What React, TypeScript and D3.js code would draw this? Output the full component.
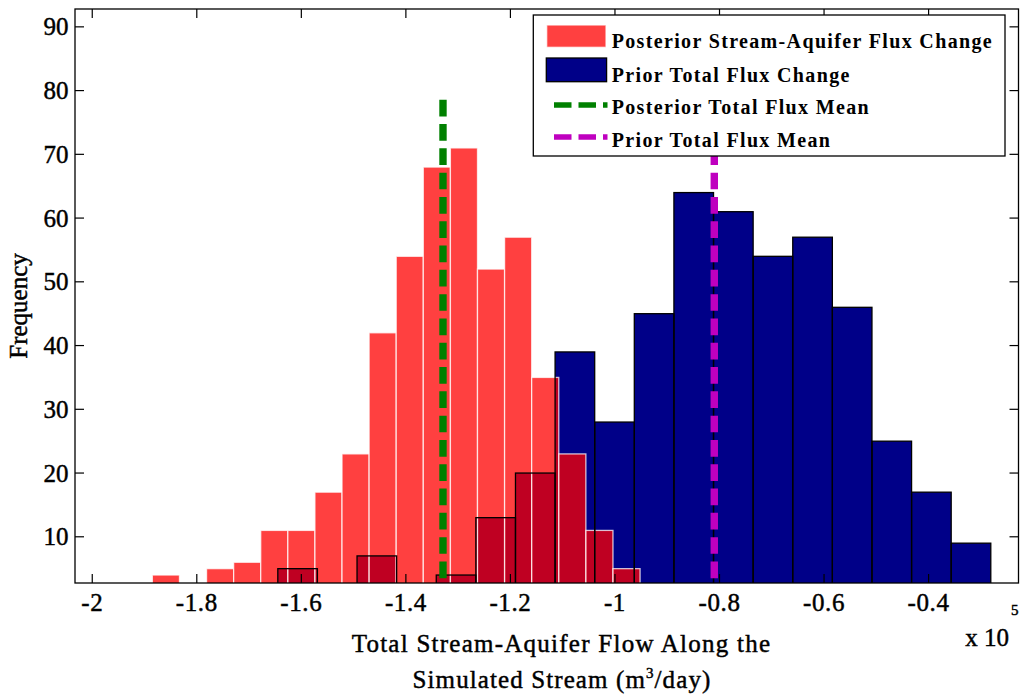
import React from 'react';
import * as d3 from 'd3';

// Histogram counts (18 equal-width bins spanning each range), in units of 10^5 m^3/day
const posteriorCounts = [4, 0, 5, 6, 11, 11, 17, 23, 42, 54, 68, 71, 52, 57, 35, 23, 11, 5];
const posteriorRange: [number, number] = [-1.885, -0.952];
const priorCounts = [5, 0, 7, 0, 4, 13, 20, 39, 28, 45, 64, 61, 54, 57, 46, 25, 17, 9];
const priorRange: [number, number] = [-1.645, -0.281];

const posteriorMean = -1.329;
const priorMean = -0.81;
const meanLineTop = 79;

const xTicks = [-2, -1.8, -1.6, -1.4, -1.2, -1, -0.8, -0.6, -0.4];
const yTicks = [10, 20, 30, 40, 50, 60, 70, 80, 90];

const legendLabels = [
  'Posterior Stream-Aquifer Flux Change',
  'Prior Total Flux Change',
  'Posterior Total Flux Mean',
  'Prior Total Flux Mean',
];

const W = 1021;
const H = 700;
const frame = { left: 75, top: 9, right: 1018.5, bottom: 583 };
const FONT = "'Liberation Serif', 'Times New Roman', serif";

const RED = '#ff0000';
const NAVY = '#000088';
const GREEN = '#008000';
const MAGENTA = '#bf00bf';

// slightly heavier strokes for the regular-weight axis text
const heavy = { stroke: '#000', strokeWidth: 0.45, paintOrder: 'stroke' } as const;

type Bin = { x0: number; x1: number; count: number };

function toBins(counts: number[], range: [number, number]): Bin[] {
  const [lo, hi] = range;
  const w = (hi - lo) / counts.length;
  return counts.map((count, i) => ({ x0: lo + i * w, x1: lo + (i + 1) * w, count }));
}

export default function App() {
  const x = d3.scaleLinear().domain([-2.033, -0.228]).range([frame.left, frame.right]);
  const y = d3.scaleLinear().domain([2.75, 92.8]).range([frame.bottom, frame.top]);

  const post = toBins(posteriorCounts, posteriorRange).filter((b) => b.count > 0);
  const prior = toBins(priorCounts, priorRange).filter((b) => b.count > 0);

  const rect = (b: Bin) => ({
    x: x(b.x0),
    y: y(b.count),
    width: x(b.x1) - x(b.x0),
    height: y(0) - y(b.count),
  });

  const tickLen = 9;
  const pw = frame.right - frame.left;
  const ph = frame.bottom - frame.top;

  const meanLine = (v: number) =>
    d3.line<[number, number]>()([
      [x(v), y(0)],
      [x(v), y(meanLineTop)],
    ]) as string;

  // legend geometry
  const lg = { x: 533.3, y: 15, w: 471.7, h: 141 };
  const rowBase = [48.3, 81.7, 114, 147.3];

  return (
    <div style={{ position: 'absolute', left: 0, top: 0 }}>
      <svg width={W} height={H} style={{ display: 'block', background: '#fff' }} fontFamily={FONT}>
        <defs>
          <clipPath id="plotClip">
            <rect x={frame.left} y={frame.top} width={pw} height={ph} />
          </clipPath>
        </defs>

        <g clipPath="url(#plotClip)">
          {/* prior fill */}
          {prior.map((b, i) => (
            <rect key={'pf' + i} {...rect(b)} fill={NAVY} />
          ))}
          {/* posterior, translucent */}
          {post.map((b, i) => (
            <rect
              key={'po' + i}
              {...rect(b)}
              fill={RED}
              fillOpacity={0.75}
              stroke="#ffffff"
              strokeOpacity={0.75}
              strokeWidth={1.3}
            />
          ))}
          {/* prior outlines */}
          {prior.map((b, i) => (
            <rect key={'pe' + i} {...rect(b)} fill="none" stroke="#000" strokeWidth={1.3} />
          ))}
          {/* mean lines */}
          <path d={meanLine(posteriorMean)} stroke={GREEN} strokeWidth={7.4} strokeDasharray="16.7 7.6" strokeDashoffset={1.9} fill="none" />
          <path d={meanLine(priorMean)} stroke={MAGENTA} strokeWidth={7.4} strokeDasharray="16.7 7.6" strokeDashoffset={1.9} fill="none" />
        </g>

        {/* axes box */}
        <rect x={frame.left} y={frame.top} width={pw} height={ph} fill="none" stroke="#000" strokeWidth={1.3} />

        {/* x ticks */}
        {xTicks.map((t) => (
          <g key={'xt' + t}>
            <line x1={x(t)} x2={x(t)} y1={frame.bottom} y2={frame.bottom - tickLen} stroke="#000" strokeWidth={1.2} />
            <line x1={x(t)} x2={x(t)} y1={frame.top} y2={frame.top + tickLen} stroke="#000" strokeWidth={1.2} />
            <text x={x(t)} y={611} textAnchor="middle" fontSize={25} style={{ letterSpacing: '0.6px' }} {...heavy}>
              {String(t)}
            </text>
          </g>
        ))}

        {/* y ticks */}
        {yTicks.map((t) => (
          <g key={'yt' + t}>
            <line x1={frame.left} x2={frame.left + tickLen} y1={y(t)} y2={y(t)} stroke="#000" strokeWidth={1.2} />
            <line x1={frame.right} x2={frame.right - tickLen} y1={y(t)} y2={y(t)} stroke="#000" strokeWidth={1.2} />
            <text x={68.5} y={y(t) + 8.5} textAnchor="end" fontSize={25} {...heavy}>
              {String(t)}
            </text>
          </g>
        ))}

        {/* axis labels */}
        <text x={18} y={306} fontSize={25} textAnchor="middle" dominantBaseline="central" transform="rotate(-90 18 306)" {...heavy}>
          Frequency
        </text>
        <text x={561.5} y={652} fontSize={25} textAnchor="middle" style={{ letterSpacing: '1.25px' }} {...heavy}>
          Total Stream-Aquifer Flow Along the
        </text>
        <text x={562} y={688} fontSize={25} textAnchor="middle" style={{ letterSpacing: '1.1px' }} {...heavy}>
          Simulated Stream (m<tspan dy={-10} fontSize={15}>3</tspan>
          <tspan dy={10}>/day)</tspan>
        </text>
        <text x={1009} y={646} fontSize={25} textAnchor="end" {...heavy}>
          x 10
        </text>
        <text x={1011} y={615} fontSize={15} {...heavy}>
          5
        </text>

        {/* legend */}
        <g>
          <rect x={lg.x} y={lg.y} width={lg.w} height={lg.h} fill="#fff" stroke="#000" strokeWidth={1.3} />
          <rect x={546.7} y={25} width={59.3} height={22.3} fill={RED} fillOpacity={0.75} stroke="#fff" strokeOpacity={0.75} strokeWidth={1.3} />
          <rect x={546.3} y={58} width={60.3} height={23.7} fill={NAVY} stroke="#000" strokeWidth={1.3} />
          <line x1={554} x2={607.5} y1={105} y2={105} stroke={GREEN} strokeWidth={5.5} strokeDasharray="17.5 7" />
          <line x1={554} x2={607.5} y1={137} y2={137} stroke={MAGENTA} strokeWidth={5.5} strokeDasharray="17.5 7" />
          {legendLabels.map((label, i) => (
            <text key={label} x={611.7} y={rowBase[i]} fontSize={20} fontWeight="bold" style={{ letterSpacing: '1.35px' }}>
              {label}
            </text>
          ))}
        </g>
      </svg>
    </div>
  );
}
